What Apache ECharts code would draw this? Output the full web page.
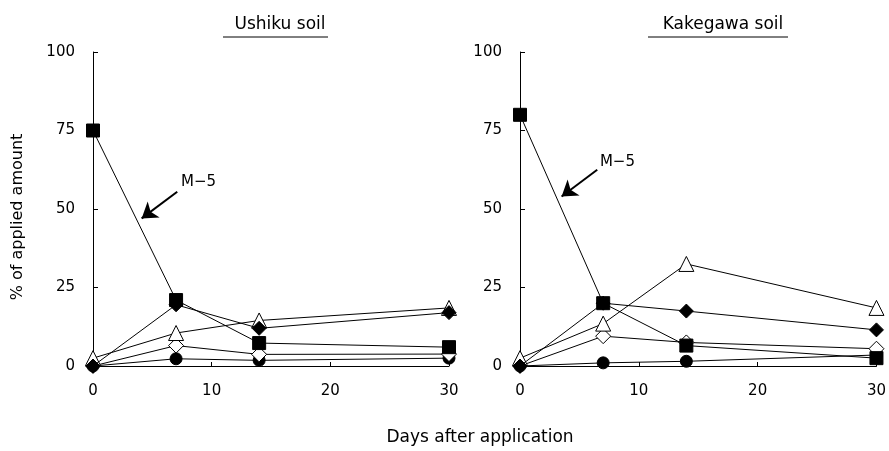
<!DOCTYPE html>
<html>
<head>
<meta charset="utf-8">
<script src="https://cdn.jsdelivr.net/npm/echarts@6/dist/echarts.min.js"></script>
<style>
  html, body { margin: 0; padding: 0; background: #fff; }
  #chart { width: 889px; height: 451px; }
</style>
</head>
<body>
<div id="chart"></div>
<script>
const days = [0, 7, 14, 30];
const xTicks = [0, 10, 20, 30];
const yTicks = [0, 25, 50, 75, 100];
const panelTitles = ['Ushiku soil', 'Kakegawa soil'];

// Ushiku soil
const ushikuM5 = [75, 21, 7.3, 6];          // filled square
const ushikuFillDia = [0, 19.5, 12, 17];     // filled diamond
const ushikuTri = [2.5, 10.5, 14.5, 18.5];   // open triangle
const ushikuOpenDia = [0, 6.5, 3.7, 3.8];    // open diamond
const ushikuCircle = [0, 2.3, 1.8, 2.5];     // filled circle

// Kakegawa soil
const kakeM5 = [80, 20, 6.5, 2.5];
const kakeFillDia = [0, 20, 17.5, 11.5];
const kakeTri = [2.5, 13.5, 32.5, 18.5];
const kakeOpenDia = [0, 9.5, 7.5, 5.5];
const kakeCircle = [0, 1, 1.5, 3.5];

const font = 'DejaVu Sans';

const chart = echarts.init(document.getElementById('chart'));

const pairs = (vals) => days.map((d, i) => [d, vals[i]]);

const mk = (name, idx, vals, symbol, filled, size, z) => ({
    name: name,
    type: 'line',
    xAxisIndex: idx,
    yAxisIndex: idx,
    data: pairs(vals),
    symbol: symbol,
    symbolSize: size,
    showSymbol: true,
    z: z,
    lineStyle: { color: '#000', width: 1 },
    itemStyle: {
        color: filled ? '#000' : '#fff',
        borderColor: '#000',
        borderWidth: 1
    },
    emphasis: { disabled: true },
    animation: false
});

const diamond = 'path://M0,-10L10,0L0,10L-10,0Z';
const triangle = 'path://M0,-10L9,6L-9,6Z';

const arrowFor = (from, to) => ({
    silent: true,
    symbol: ['none', 'arrow'],
    symbolSize: 15,
    lineStyle: { color: '#000', width: 2, type: 'solid' },
    itemStyle: { color: '#000' },
    label: { show: false },
    data: [[{ coord: from }, { coord: to }]]
});

const labelFor = (at) => ({
    silent: true,
    symbolSize: 0,
    label: {
        show: true,
        formatter: 'M\u22125',
        color: '#000',
        fontFamily: font,
        fontSize: 15,
        position: 'inside'
    },
    data: [{ coord: at }]
});

function makeSeries(idx, m5, fd, tri, od, circ, arrowFrom, arrowTo, textAt) {
    const sq = mk('M-5', idx, m5, 'rect', true, 13, 6);
    sq.markLine = arrowFor(arrowFrom, arrowTo);
    sq.markPoint = labelFor(textAt);
    return [
        mk('circle', idx, circ, 'circle', true, 12, 2),
        mk('open diamond', idx, od, diamond, false, 15, 3),
        mk('triangle', idx, tri, triangle, false, 15, 4),
        mk('filled diamond', idx, fd, diamond, true, 14, 5),
        sq
    ];
}

const xAxisBase = (idx) => ({
    type: 'value',
    gridIndex: idx,
    min: 0,
    max: 30,
    interval: 10,
    axisLine: { lineStyle: { color: '#000', width: 1 } },
    axisTick: { inside: true, length: 4, lineStyle: { color: '#000' } },
    axisLabel: { color: '#000', fontFamily: font, fontSize: 15, margin: 18 },
    splitLine: { show: false }
});

const yAxisBase = (idx) => ({
    type: 'value',
    gridIndex: idx,
    min: 0,
    max: 100,
    interval: 25,
    axisLine: { show: true, lineStyle: { color: '#000', width: 1 } },
    axisTick: { show: true, inside: true, length: 5, lineStyle: { color: '#000' } },
    axisLabel: { color: '#000', fontFamily: font, fontSize: 15, margin: 18 },
    splitLine: { show: false }
});

const titleStyle = { fontFamily: font, fontSize: 17, fontWeight: 'normal', color: '#000' };

const option = {
    backgroundColor: '#fff',
    animation: false,
    title: [
        { text: panelTitles[0], left: 275, top: 11, textAlign: 'center', textStyle: titleStyle },
        { text: panelTitles[1], left: 718, top: 11, textAlign: 'center', textStyle: titleStyle }
    ],
    grid: [
        { left: 93, top: 52, width: 356, height: 314 },
        { left: 520, top: 52, width: 357, height: 314 }
    ],
    xAxis: [xAxisBase(0), xAxisBase(1)],
    yAxis: [yAxisBase(0), yAxisBase(1)],
    graphic: [
        { type: 'line', shape: { x1: 223, y1: 37, x2: 328, y2: 37 }, style: { stroke: '#000', lineWidth: 1 } },
        { type: 'line', shape: { x1: 648, y1: 37, x2: 788, y2: 37 }, style: { stroke: '#000', lineWidth: 1 } },
        { type: 'text', x: 480, y: 438,
          style: { text: 'Days after application', fontFamily: font, fontSize: 17, fill: '#000',
                   align: 'center', verticalAlign: 'middle' } },
        { type: 'text', x: 18, y: 217, rotation: Math.PI / 2,
          style: { text: '% of applied amount', fontFamily: font, fontSize: 16, fill: '#000',
                   align: 'center', verticalAlign: 'middle' } }
    ],
    series: [
        ...makeSeries(0, ushikuM5, ushikuFillDia, ushikuTri, ushikuOpenDia, ushikuCircle,
            [7.1, 55.5], [4.1, 47], [8.9, 58.5]),
        ...makeSeries(1, kakeM5, kakeFillDia, kakeTri, kakeOpenDia, kakeCircle,
            [6.5, 62.5], [3.5, 54], [8.2, 65])
    ]
};

chart.setOption(option);
window.addEventListener('resize', chart.resize);
</script>
</body>
</html>
